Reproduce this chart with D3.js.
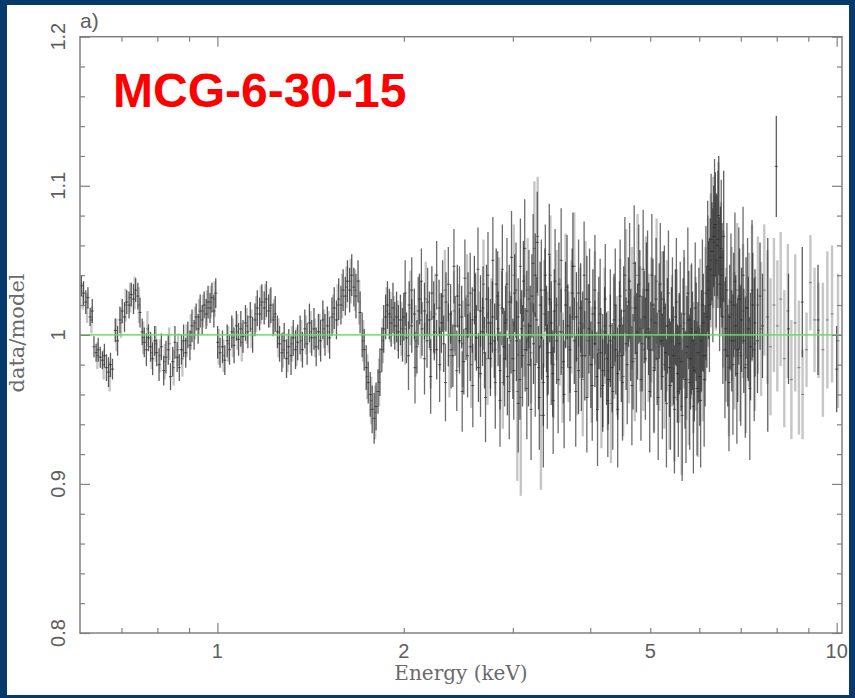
<!DOCTYPE html>
<html>
<head>
<meta charset="utf-8">
<script src="https://cdn.jsdelivr.net/npm/d3@7/dist/d3.min.js"></script>
<style>
  html, body { margin: 0; padding: 0; background: #063a6c; }
  svg { display: block; }
</style>
</head>
<body>
<script>
// Ratio of data to continuum model, MCG-6-30-15, as [energy keV, ratio, 1-sigma error]
const darkSeries = [
  [0.603,1.033,.007],[0.608,1.028,.008],[0.613,1.022,.008],[0.618,1.025,.007],[0.623,1.012,.006],
  [0.628,1.016,.008],[0.632,0.992,.007],[0.637,0.988,.006],[0.642,0.990,.008],[0.647,0.985,.007],
  [0.652,0.983,.006],[0.657,0.986,.008],[0.662,0.978,.009],[0.667,0.975,.010],[0.672,0.980,.008],
  [0.677,0.977,.007],[0.684,1.003,.008],[0.690,0.996,.010],[0.696,1.010,.009],[0.702,1.016,.008],
  [0.708,1.012,.010],[0.714,1.022,.008],[0.720,1.020,.009],[0.726,1.027,.008],[0.732,1.024,.010],
  [0.738,1.030,.008],[0.744,1.026,.009],[0.750,1.015,.010],[0.756,1.002,.009],[0.762,0.995,.010],
  [0.768,0.990,.011],[0.774,0.998,.009],[0.780,0.992,.010],[0.786,0.984,.011],[0.792,0.996,.010],
  [0.798,0.988,.009],[0.805,0.980,.011],[0.812,0.992,.009],[0.819,0.976,.010],[0.826,0.985,.011],
  [0.833,0.990,.010],[0.840,0.972,.009],[0.847,0.982,.010],[0.854,0.995,.011],[0.861,0.985,.010],
  [0.868,0.978,.009],[0.875,0.990,.010],[0.882,0.996,.011],[0.889,0.988,.010],[0.896,1.000,.009],
  [0.903,0.993,.010],[0.910,1.006,.011],[0.917,1.000,.010],[0.924,1.012,.009],[0.931,1.004,.010],
  [0.938,1.016,.011],[0.945,1.010,.010],[0.952,1.020,.009],[0.959,1.014,.010],[0.966,1.022,.011],
  [0.973,1.018,.010],[0.980,1.025,.010],[0.987,1.016,.011],[0.994,1.028,.010],[1.001,0.995,.011],
  [1.010,0.988,.010],[1.019,0.992,.011],[1.028,0.983,.010],[1.037,0.996,.011],[1.046,0.990,.010],
  [1.055,1.002,.011],[1.064,0.993,.012],[1.073,1.006,.010],[1.082,0.997,.011],[1.091,1.004,.012],
  [1.100,0.999,.011],[1.110,1.008,.012],[1.120,1.002,.011],[1.130,1.012,.010],[1.140,1.000,.012],
  [1.150,1.010,.011],[1.160,1.018,.012],[1.170,1.014,.011],[1.180,1.022,.012],[1.190,1.018,.011],
  [1.200,1.024,.012],[1.210,1.016,.011],[1.220,1.020,.012],[1.230,1.010,.011],[1.240,1.014,.012],
  [1.250,1.002,.011],[1.260,0.994,.012],[1.271,0.988,.013],[1.282,0.996,.012],[1.293,0.984,.013],
  [1.304,0.992,.012],[1.315,0.986,.013],[1.326,0.998,.012],[1.337,0.990,.013],[1.348,0.995,.012],
  [1.360,1.000,.013],[1.372,0.990,.012],[1.384,1.004,.013],[1.396,0.994,.014],[1.408,1.008,.013],
  [1.420,0.998,.012],[1.432,1.004,.014],[1.444,0.992,.013],[1.456,1.002,.012],[1.468,0.996,.014],
  [1.480,1.010,.013],[1.492,1.000,.014],[1.505,1.006,.013],[1.518,0.998,.014],[1.531,1.012,.013],
  [1.544,1.018,.014],[1.557,1.010,.013],[1.570,1.024,.014],[1.583,1.020,.013],[1.596,1.030,.014],
  [1.609,1.026,.013],[1.622,1.036,.014],[1.635,1.030,.015],[1.648,1.040,.014],[1.661,1.032,.013],
  [1.674,1.026,.015],[1.687,1.036,.014],[1.700,1.015,.014],[1.713,1.000,.015],[1.726,0.990,.014],
  [1.739,0.978,.015],[1.752,0.968,.014],[1.765,0.960,.015],[1.778,0.950,.016],[1.791,0.944,.017],
  [1.804,0.952,.016],[1.817,0.962,.015],[1.830,0.975,.016],[1.843,0.990,.015],[1.856,1.004,.016],
  [1.869,1.012,.015],[1.882,1.020,.016],[1.895,1.014,.017],[1.908,1.008,.016],[1.921,1.018,.017],
  [1.934,1.006,.016],[1.947,1.012,.017],[1.960,1.002,.018],[1.975,1.010,.017],[1.990,1.000,.018],
  [2.00,1.012,.016],[2.02,0.998,.017],[2.04,1.020,.016],[2.06,1.006,.018],[2.08,1.014,.017],
  [2.10,0.992,.018],[2.12,1.024,.017],[2.14,1.004,.018],[2.16,1.016,.019],[2.18,0.996,.018],
  [2.20,1.010,.019],[2.22,1.028,.018],[2.24,1.002,.019],[2.26,0.990,.020],[2.28,1.018,.019],
  [2.30,1.008,.020],[2.32,0.994,.019],[2.34,1.022,.020],[2.36,1.000,.021],[2.38,1.014,.020],
  [2.40,0.986,.021],[2.42,1.006,.020],[2.44,1.026,.021],[2.46,0.996,.022],[2.48,1.012,.021],
  [2.50,0.982,.022],[2.52,1.004,.021],[2.54,1.020,.022],[2.56,0.992,.023],[2.58,1.010,.022],
  [2.60,1.030,.023],[2.62,0.998,.022],[2.64,0.978,.023],[2.66,1.016,.024],[2.68,1.002,.023],
  [2.70,0.988,.024],[2.72,1.024,.023],[2.74,1.008,.024],[2.76,0.984,.025],[2.78,1.012,.024],
  [2.80,0.996,.025],[2.82,1.034,.024],[2.84,1.004,.025],[2.86,0.976,.026],[2.88,1.018,.025],
  [2.90,0.992,.026],[2.92,1.008,.025],[2.94,0.972,.026],[2.96,1.022,.025],[2.98,1.000,.026],
  [3.00,0.984,.027],[3.02,1.028,.026],[3.04,0.996,.027],[3.06,1.012,.026],[3.08,0.970,.027],
  [3.10,1.004,.026],[3.12,1.036,.027],[3.14,0.990,.028],[3.16,1.016,.027],[3.18,0.980,.028],
  [3.20,1.006,.027],[3.22,1.026,.028],[3.24,0.994,.027],[3.26,1.040,.028],[3.28,1.010,.029],
  [3.30,0.978,.028],[3.32,1.020,.029],[3.34,0.998,.028],[3.36,0.968,.029],[3.38,1.030,.028],
  [3.40,1.004,.029],[3.42,0.988,.028],[3.44,1.024,.029],[3.46,1.008,.028],[3.48,0.974,.029],
  [3.50,1.016,.028],[3.53,0.996,.029],[3.56,1.034,.028],[3.59,1.002,.029],[3.62,0.982,.028],
  [3.65,1.020,.029],[3.68,1.006,.028],[3.71,0.990,.029],[3.74,1.028,.030],[3.77,0.996,.029],
  [3.80,1.012,.030],[3.83,0.976,.029],[3.86,1.018,.030],[3.89,1.000,.029],[3.92,0.986,.030],
  [3.95,1.024,.029],[3.98,1.004,.030],[4.01,0.980,.029],[4.04,1.014,.030],[4.07,0.994,.029],
  [4.10,0.972,.030],[4.13,1.008,.031],[4.16,0.988,.030],[4.19,0.966,.031],[4.22,1.002,.030],
  [4.25,0.984,.031],[4.28,0.970,.030],[4.31,0.996,.031],[4.34,0.978,.030],[4.37,1.010,.031],
  [4.40,0.990,.030],[4.43,0.974,.031],[4.46,1.006,.030],[4.49,0.986,.031],[4.53,1.016,.030],
  [4.57,0.994,.031],[4.61,1.022,.030],[4.65,1.000,.031],[4.69,0.982,.032],[4.73,1.018,.031],
  [4.77,1.002,.032],[4.81,1.026,.031],[4.85,0.994,.032],[4.89,1.012,.031],[4.93,1.030,.032],
  [4.97,1.004,.031],[5.01,0.990,.032],[5.05,1.020,.031],[5.09,1.008,.032],[5.13,0.984,.031],
  [5.17,1.016,.032],[5.21,0.996,.033],[5.25,1.024,.032],[5.29,0.988,.033],[5.33,1.006,.032],
  [5.37,0.978,.033],[5.41,1.000,.032],[5.45,0.986,.033],[5.49,1.012,.032],[5.53,0.974,.033],
  [5.57,0.994,.034],[5.61,0.982,.033],[5.65,1.004,.034],[5.69,0.970,.033],[5.73,0.992,.034],
  [5.77,1.010,.033],[5.81,0.984,.034],[5.85,0.996,.033],[5.89,0.976,.034],[5.93,1.002,.033],
  [5.97,0.988,.034],[6.01,0.972,.033],[6.05,0.996,.034],[6.09,1.008,.033],[6.13,0.986,.034],
  [6.17,1.012,.034],[6.21,1.030,.033],[6.25,1.044,.034],[6.29,1.056,.033],[6.33,1.066,.034],
  [6.37,1.074,.035],[6.41,1.060,.034],[6.45,1.080,.040],[6.49,1.052,.034],[6.53,1.040,.035],
  [6.57,1.066,.044],[6.62,1.004,.035],[6.67,0.986,.034],[6.72,1.012,.035],[6.77,0.996,.034],
  [6.82,1.020,.035],[6.87,1.006,.034],[6.92,0.990,.035],[6.97,1.024,.034],[7.02,1.010,.035],
  [7.08,0.996,.035],[7.14,1.018,.034],[7.20,1.004,.035],[7.26,0.992,.036],[7.32,1.020,.035],
  [7.38,1.008,.036],[7.45,0.996,.035],[7.52,1.026,.036],[7.59,1.006,.035],[7.74,1.000,.065],
  [7.99,1.113,.034],[8.36,1.004,.037],[8.80,1.022,.037],[9.33,1.010,.037],[10.00,0.977,.029]
];

// second dark data set, covering the iron band
const darkSeriesB = [
  [2.010,1.028,.022],[2.035,0.986,.023],[2.060,1.030,.022],[2.085,0.978,.024],[2.110,1.016,.023],
  [2.135,1.036,.022],[2.160,0.984,.024],[2.185,1.022,.023],[2.210,0.972,.025],[2.235,1.012,.024],
  [2.260,1.040,.023],[2.285,0.980,.025],[2.310,1.026,.024],[2.335,0.968,.026],[2.360,1.034,.025],
  [2.385,0.990,.026],[2.410,1.046,.025],[2.435,0.976,.027],[2.460,1.020,.026],[2.485,0.962,.027],
  [2.510,1.038,.026],[2.535,0.986,.028],[2.560,1.028,.027],[2.585,0.966,.028],[2.610,1.012,.029],
  [2.635,1.044,.028],[2.660,0.974,.029],[2.685,1.018,.028],[2.710,0.958,.030],[2.735,1.040,.029],
  [2.760,0.994,.030],[2.785,1.050,.029],[2.810,0.968,.031],[2.835,1.026,.030],[2.860,0.956,.031],
  [2.885,1.044,.030],[2.910,0.984,.032],[2.935,1.034,.031],[2.960,0.962,.032],[2.985,1.052,.031],
  [3.010,0.976,.033],[3.035,1.030,.032],[3.060,0.954,.033],[3.085,1.046,.032],[3.110,0.986,.034],
  [3.135,1.058,.033],[3.160,0.964,.034],[3.185,1.024,.033],[3.210,0.950,.034],[3.235,1.048,.033],
  [3.260,0.980,.035],[3.285,1.062,.034],[3.310,0.958,.035],[3.335,1.030,.034],[3.360,0.946,.035],
  [3.385,1.040,.034],[3.410,0.972,.035],[3.435,1.054,.034],[3.460,0.988,.035],[3.485,0.956,.036],
  [3.510,1.036,.035],[3.550,0.970,.036],[3.590,1.050,.035],[3.630,0.960,.036],[3.670,1.032,.035],
  [3.710,0.978,.036],[3.750,1.046,.036],[3.790,0.962,.037],[3.830,1.028,.036],[3.870,0.986,.037],
  [3.910,1.040,.036],[3.950,0.958,.037],[3.990,1.022,.036],[4.030,0.966,.037],[4.070,1.030,.037],
  [4.110,0.950,.038],[4.150,1.014,.037],[4.190,0.976,.038],[4.230,1.024,.037],[4.270,0.956,.038],
  [4.310,1.006,.038],[4.350,0.962,.039],[4.390,1.020,.038],[4.430,0.950,.039],[4.470,1.026,.038],
  [4.510,0.968,.039],[4.550,1.040,.039],[4.590,0.980,.040],[4.630,1.036,.039],[4.670,0.966,.040],
  [4.710,1.048,.039],[4.750,0.988,.040],[4.790,1.034,.040],[4.830,0.970,.041],[4.870,1.044,.040],
  [4.910,0.984,.041],[4.950,1.030,.040],[4.990,0.962,.041],[5.030,1.040,.041],[5.070,0.976,.042],
  [5.110,1.024,.041],[5.150,0.958,.042],[5.190,1.034,.041],[5.230,0.972,.042],[5.270,1.018,.042],
  [5.310,0.954,.043],[5.350,1.028,.042],[5.390,0.966,.043],[5.430,1.010,.042],[5.470,0.950,.043],
  [5.510,1.022,.043],[5.550,0.962,.044],[5.590,1.006,.043],[5.630,0.946,.044],[5.670,1.014,.043],
  [5.710,0.958,.044],[5.750,1.028,.044],[5.790,0.968,.045],[5.830,1.004,.044],[5.870,0.952,.045],
  [5.910,1.018,.044],[5.950,0.964,.045],[5.990,1.000,.045],[6.030,0.956,.045],[6.070,1.020,.044],
  [6.110,0.970,.045],[6.150,1.028,.045],[6.190,1.046,.044],[6.230,1.020,.045],[6.270,1.064,.044],
  [6.310,1.040,.045],[6.350,1.072,.046],[6.390,1.050,.045],[6.430,1.064,.046],[6.470,1.034,.045],
  [6.510,1.058,.046],[6.550,1.012,.045],[6.600,0.990,.046],[6.650,1.030,.045],[6.700,0.968,.046],
  [6.750,1.022,.046],[6.800,0.980,.047],[6.850,1.036,.046],[6.900,0.974,.047],[6.950,1.026,.046],
  [7.000,0.986,.047],[7.060,1.040,.046],[7.120,0.978,.047],[7.180,1.018,.047],[7.240,0.964,.048],
  [7.300,1.030,.047],[7.360,0.990,.048]
];

const lightSeries = [
  [0.606,1.026,.009],[0.616,1.018,.010],[0.626,1.010,.009],[0.640,0.986,.009],[0.655,0.980,.010],
  [0.670,0.972,.010],[0.687,1.000,.011],[0.699,1.008,.010],[0.711,1.020,.011],[0.723,1.025,.010],
  [0.735,1.028,.011],[0.747,1.020,.012],[0.759,0.998,.011],[0.771,1.004,.012],[0.783,0.988,.011],
  [0.795,0.994,.012],[0.808,0.986,.011],[0.822,0.982,.012],[0.836,0.994,.011],[0.850,0.978,.012],
  [0.864,0.990,.011],[0.878,0.984,.012],[0.892,0.996,.011],[0.906,1.002,.012],[0.920,1.008,.011],
  [0.934,1.012,.012],[0.948,1.016,.011],[0.962,1.018,.012],[0.976,1.022,.011],[0.990,1.024,.012],
  [1.005,0.992,.012],[1.023,0.986,.011],[1.041,0.994,.012],[1.059,0.998,.013],[1.077,1.002,.012],
  [1.095,0.995,.013],[1.115,1.006,.012],[1.135,1.004,.013],[1.155,1.014,.012],[1.175,1.020,.013],
  [1.195,1.022,.012],[1.215,1.018,.013],[1.235,1.012,.012],[1.255,0.998,.013],[1.276,0.990,.012],
  [1.298,0.988,.013],[1.320,0.994,.012],[1.342,0.992,.013],[1.366,0.996,.014],[1.390,1.000,.013],
  [1.414,1.002,.014],[1.438,0.998,.013],[1.462,1.000,.014],[1.486,1.004,.013],[1.512,1.002,.014],
  [1.538,1.014,.013],[1.564,1.020,.014],[1.590,1.026,.015],[1.616,1.032,.014],[1.642,1.036,.015],
  [1.668,1.030,.014],[1.694,1.022,.015],[1.720,0.996,.014],[1.746,0.972,.015],[1.772,0.956,.016],
  [1.798,0.948,.018],[1.824,0.968,.016],[1.850,0.996,.015],[1.876,1.016,.016],[1.902,1.012,.017],
  [1.928,1.010,.016],[1.955,1.006,.017],[1.982,1.004,.018],
  [2.01,1.004,.024],[2.05,1.018,.025],[2.09,0.996,.024],[2.13,1.010,.026],[2.17,1.024,.025],
  [2.21,0.990,.026],[2.25,1.014,.027],[2.29,1.002,.026],[2.33,1.030,.027],[2.37,0.986,.028],
  [2.41,1.016,.027],[2.45,1.006,.028],[2.49,0.994,.029],[2.53,1.026,.028],[2.57,0.980,.029],
  [2.61,1.012,.030],[2.65,1.000,.029],[2.69,1.034,.030],[2.73,0.984,.031],[2.77,1.008,.030],
  [2.81,0.990,.031],[2.85,1.020,.032],[2.89,0.968,.031],[2.93,1.010,.032],[2.97,0.996,.033],
  [3.01,1.040,.034],[3.05,0.962,.060],[3.09,0.958,.066],[3.13,1.006,.034],[3.17,1.030,.035],
  [3.21,0.988,.034],[3.25,1.058,.045],[3.29,1.066,.040],[3.33,0.946,.050],[3.37,1.014,.036],
  [3.41,0.994,.035],[3.45,1.040,.040],[3.49,0.980,.036],[3.53,1.020,.037],[3.57,1.002,.036],
  [3.61,0.978,.037],[3.65,1.030,.038],[3.69,0.992,.037],[3.73,1.012,.038],[3.77,1.046,.036],
  [3.81,0.984,.038],[3.85,1.008,.037],[3.89,0.970,.038],[3.93,1.024,.039],[3.97,0.996,.038],
  [4.02,0.980,.039],[4.07,1.018,.038],[4.12,0.990,.039],[4.17,0.964,.040],[4.22,1.006,.039],
  [4.27,0.976,.040],[4.32,0.954,.040],[4.37,0.998,.041],[4.42,0.986,.040],[4.47,1.010,.041],
  [4.52,0.972,.040],[4.57,1.030,.041],[4.62,0.996,.042],[4.67,1.018,.041],[4.72,0.984,.042],
  [4.77,1.040,.041],[4.82,1.004,.042],[4.87,0.990,.041],[4.92,1.024,.042],[4.97,0.998,.043],
  [5.02,1.010,.042],[5.07,0.978,.043],[5.12,1.036,.042],[5.17,0.992,.043],[5.22,1.014,.042],
  [5.27,0.980,.043],[5.32,1.006,.044],[5.37,0.966,.043],[5.42,0.996,.044],[5.47,0.958,.043],
  [5.52,1.000,.044],[5.57,0.984,.043],[5.62,0.952,.046],[5.67,1.008,.044],[5.72,0.988,.045],
  [5.77,0.970,.044],[5.82,1.002,.045],[5.87,0.978,.044],[5.92,0.994,.045],[5.97,0.962,.044],
  [6.02,1.006,.045],[6.08,0.986,.044],[6.14,1.014,.045],[6.20,1.036,.044],[6.26,1.050,.045],
  [6.32,1.062,.044],[6.38,1.048,.045],[6.44,1.070,.046],[6.50,1.044,.045],[6.56,1.024,.046],
  [6.63,1.000,.045],[6.70,0.978,.046],[6.77,1.014,.045],[6.84,0.996,.046],[6.91,1.030,.045],
  [6.98,0.988,.046],[7.06,1.016,.045],[7.14,0.980,.046],[7.22,1.010,.045],[7.30,1.028,.046],
  [7.38,0.994,.045],[7.46,1.020,.046],[7.55,1.004,.045],[7.64,1.030,.044],[7.73,1.012,.045],
  [7.82,0.992,.046],[7.92,1.020,.045],[8.02,1.006,.044],[8.12,1.024,.045],[8.23,0.984,.046],
  [8.34,1.016,.045],[8.45,0.970,.040],[8.57,1.008,.046],[8.69,0.978,.045],[8.81,0.960,.030],
  [8.94,0.990,.025],[9.07,1.035,.032],[9.21,1.010,.035],[9.35,1.003,.032],[9.50,0.990,.045],
  [9.66,1.010,.046],[9.83,1.014,.046],[10.05,0.996,.045]
];

const xMajorTicks = [1, 10];
const xMinorTicks = [0.7, 0.8, 0.9, 2, 3, 4, 5, 6, 7, 8, 9];
const xTickLabels = [1, 2, 5, 10];
const yMajorTicks = [0.8, 0.9, 1.0, 1.1, 1.2];
const yMinorTicks = [0.82,0.84,0.86,0.88,0.92,0.94,0.96,0.98,1.02,1.04,1.06,1.08,1.12,1.14,1.16,1.18];
const yTickLabels = ["0.8", "0.9", "1", "1.1", "1.2"];
const modelLevel = 1.0;

const W = 855, H = 698;
const plot = { left: 80, right: 842, top: 36.7, bottom: 633 };

const x = d3.scaleLog().domain([0.6, 10.2]).range([plot.left, plot.right]);
const y = d3.scaleLinear().domain([0.8, 1.2]).range([plot.bottom, plot.top]);

const svg = d3.select("body").append("svg").attr("width", W).attr("height", H);

// frame
svg.append("rect").attr("width", W).attr("height", H).attr("fill", "#063a6c");
svg.append("rect").attr("x", 7).attr("y", 5).attr("width", 842).attr("height", 690).attr("fill", "#ffffff");

svg.append("defs").append("clipPath").attr("id", "plotclip")
  .append("rect").attr("x", plot.left).attr("y", plot.top)
  .attr("width", plot.right - plot.left).attr("height", plot.bottom - plot.top);

const dataLayer = svg.append("g").attr("clip-path", "url(#plotclip)");

function drawSeries(bins, color, width, opacity, capColor) {
  const g = dataLayer.append("g");
  g.selectAll("line.err").data(bins).join("line")
    .attr("class", "err")
    .attr("x1", d => x(d[0])).attr("x2", d => x(d[0]))
    .attr("y1", d => y(d[1] - d[2])).attr("y2", d => y(d[1] + d[2]))
    .attr("stroke", color).attr("stroke-width", width).attr("stroke-opacity", opacity);
  g.selectAll("line.bin").data(bins).join("line")
    .attr("class", "bin")
    .attr("x1", d => x(d[0]) - 1.5).attr("x2", d => x(d[0]) + 1.5)
    .attr("y1", d => y(d[1])).attr("y2", d => y(d[1]))
    .attr("stroke", capColor).attr("stroke-width", 1).attr("stroke-opacity", 0.7);
}

drawSeries(lightSeries, "#a0a0a0", 2.4, 0.6, "#555");
drawSeries(darkSeriesB, "#333333", 1.3, 0.72, "#222");
drawSeries(darkSeries, "#333333", 1.3, 0.8, "#222");

// model level
svg.append("line")
  .attr("x1", plot.left).attr("x2", plot.right)
  .attr("y1", y(modelLevel)).attr("y2", y(modelLevel))
  .attr("stroke", "#66dd66").attr("stroke-width", 1.6).attr("stroke-opacity", 0.85);

// axes with inward ticks on all four sides
const axisColor = "#808080";
function styleAxis(g) {
  g.select(".domain").remove();
  g.selectAll(".tick line").attr("stroke", axisColor).attr("stroke-width", 1.2);
  g.selectAll(".tick text").remove();
}
[[xMajorTicks, 10], [xMinorTicks, 5]].forEach(([vals, len]) => {
  svg.append("g").attr("transform", `translate(0,${plot.bottom})`)
    .call(d3.axisBottom(x).tickValues(vals).tickSizeInner(-len).tickSizeOuter(0).tickFormat(""))
    .call(styleAxis);
  svg.append("g").attr("transform", `translate(0,${plot.top})`)
    .call(d3.axisTop(x).tickValues(vals).tickSizeInner(-len).tickSizeOuter(0).tickFormat(""))
    .call(styleAxis);
});
[[yMajorTicks, 10], [yMinorTicks, 5]].forEach(([vals, len]) => {
  svg.append("g").attr("transform", `translate(${plot.left},0)`)
    .call(d3.axisLeft(y).tickValues(vals).tickSizeInner(-len).tickSizeOuter(0).tickFormat(""))
    .call(styleAxis);
  svg.append("g").attr("transform", `translate(${plot.right},0)`)
    .call(d3.axisRight(y).tickValues(vals).tickSizeInner(-len).tickSizeOuter(0).tickFormat(""))
    .call(styleAxis);
});

svg.append("rect")
  .attr("x", plot.left).attr("y", plot.top)
  .attr("width", plot.right - plot.left).attr("height", plot.bottom - plot.top)
  .attr("fill", "none").attr("stroke", axisColor).attr("stroke-width", 1.5);

// tick labels
const labelColor = "#5e5e5e";
svg.append("g").selectAll("text").data(xTickLabels).join("text")
  .attr("x", d => x(d)).attr("y", 658)
  .attr("text-anchor", "middle")
  .attr("font-family", "'Liberation Sans', Arial, sans-serif").attr("font-size", 20)
  .attr("fill", labelColor)
  .text(d => d);

svg.append("g").selectAll("text").data(yMajorTicks).join("text")
  .attr("transform", d => `translate(65,${y(d)}) rotate(-90)`)
  .attr("text-anchor", "middle")
  .attr("font-family", "'Liberation Sans', Arial, sans-serif").attr("font-size", 20)
  .attr("fill", labelColor)
  .text((d, i) => yTickLabels[i]);

// axis titles
svg.append("text")
  .attr("x", 461).attr("y", 680).attr("text-anchor", "middle")
  .attr("font-family", "'DejaVu Serif', serif").attr("font-size", 20)
  .attr("fill", "#6a6a6a").text("Energy (keV)");

svg.append("text")
  .attr("transform", "translate(24,333) rotate(-90)").attr("text-anchor", "middle")
  .attr("font-family", "'DejaVu Serif', serif").attr("font-size", 21)
  .attr("fill", "#6a6a6a").text("data/model");

svg.append("text")
  .attr("x", 80).attr("y", 28)
  .attr("font-family", "'Liberation Sans', Arial, sans-serif").attr("font-size", 21)
  .attr("fill", labelColor).text("a)");

svg.append("text")
  .attr("x", 113).attr("y", 106.5)
  .attr("font-family", "'Liberation Sans', Arial, sans-serif").attr("font-weight", "bold")
  .attr("font-size", 48).attr("fill", "#ff0000").text("MCG-6-30-15");
</script>
</body>
</html>
